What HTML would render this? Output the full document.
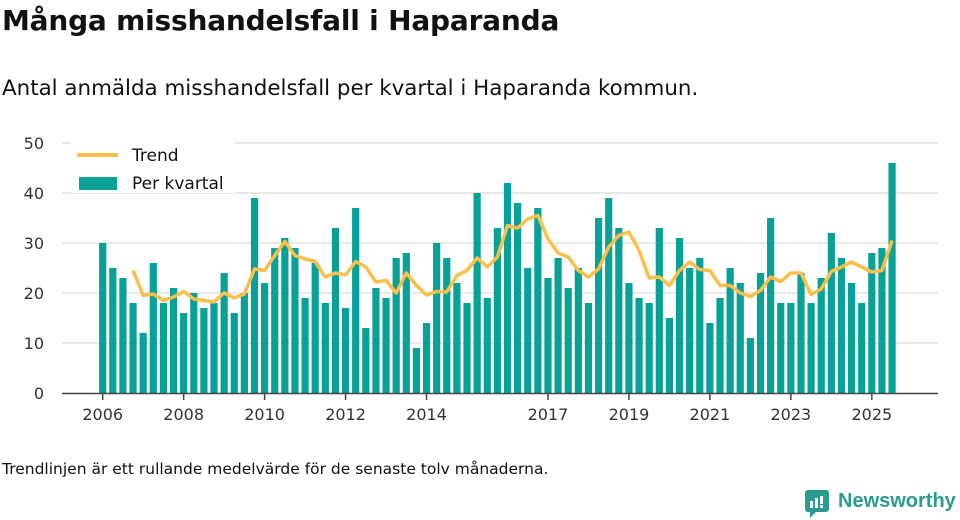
<!DOCTYPE html>
<html><head><meta charset="utf-8"><style>
body{margin:0;width:960px;height:520px;background:#fff;font-family:"Liberation Sans","DejaVu Sans",sans-serif;color:#111;position:relative;overflow:hidden}
#title{position:absolute;left:2px;top:4px;font-size:28px;font-weight:bold;font-family:"DejaVu Sans",sans-serif;letter-spacing:-0.2px}
#sub{position:absolute;left:2px;top:76px;font-size:21.4px;font-family:"DejaVu Sans",sans-serif}
#foot{position:absolute;left:2px;top:460px;font-size:15.5px;font-family:"DejaVu Sans",sans-serif}
#logo{position:absolute;left:838px;top:490px;font-size:20px;font-weight:bold;color:#2a9d8f;font-family:"Liberation Sans",sans-serif;white-space:nowrap}
#logoicon{position:absolute;left:805px;top:490px}
svg{position:absolute;left:0;top:0}
</style></head><body>
<div id="title">Många misshandelsfall i Haparanda</div>
<div id="sub">Antal anmälda misshandelsfall per kvartal i Haparanda kommun.</div>
<svg id="chart" width="960" height="520"></svg>
<div id="foot">Trendlinjen är ett rullande medelvärde för de senaste tolv månaderna.</div>
<svg id="logoicon" width="26" height="30" viewBox="0 0 26 30"><rect x="0" y="0" width="24" height="22" rx="3" fill="#2a9d8f"/><polygon points="5,21 12,21 5,28" fill="#2a9d8f"/><rect x="5" y="11" width="3" height="7" fill="#fff"/><rect x="10" y="8" width="3" height="10" fill="#fff"/><rect x="15" y="6" width="3" height="8" fill="#fff"/><rect x="15" y="15" width="3" height="3" fill="#fff"/></svg>
<div id="logo">Newsworthy</div>
<script>
const values=[30,25,23,18, 12,26,18,21, 16,20,17,18, 24,16,20,39, 22,29,31,29, 19,26,18,33, 17,37,13,21, 19,27,28,9, 14,30,27,22, 18,40,19,33, 42,38,25,37, 23,27,21,25, 18,35,39,33, 22,19,18,33, 15,31,25,27, 14,19,25,22, 11,24,35,18, 18,24,18,23, 32,27,22,18, 28,29,46];
const trend=[null,null,null,24.5,19.5,19.8,18.5,19.2,20.3,18.8,18.5,18.2,20,19,19.8,24.8,24.5,27.5,30.3,27.5,26.8,26.3,23.2,24,23.6,26.3,25.2,22.2,22.5,20,24,21.5,19.6,20.3,20.2,23.5,24.5,27,25.2,27.2,33.5,33,34.8,35.5,30.8,28,27.2,24.5,23.2,24.8,29.2,31.5,32.2,28.5,23,23.2,21.5,24.5,26.2,24.7,24.5,21.5,21.5,20,19.3,20.5,23.2,22.3,24,24,19.7,20.8,24.3,25.2,26.2,25.2,24.2,24.5,30.5];
const yTicks=[0,10,20,30,40,50];
const xTickYears=[2006,2008,2010,2012,2014,2017,2019,2021,2023,2025];
const NS="http://www.w3.org/2000/svg";
const svg=document.getElementById('chart');
const x=i=>102.7+i*10.12;
const y=v=>393-v*5;
function mk(t,a){const e=document.createElementNS(NS,t);for(const k in a)e.setAttribute(k,a[k]);svg.appendChild(e);return e;}
yTicks.forEach(v=>{
 if(v>0){const g=mk('line',{x1:62,x2:938,y1:y(v),y2:y(v),stroke:'#e0e0e0','stroke-width':1.5});
 
 }
 const t=mk('text',{x:44,y:y(v)+6,'text-anchor':'end','font-size':16,fill:'#333','font-family':'DejaVu Sans, sans-serif'});t.textContent=v;
 
 
});
values.forEach((v,i)=>{
 const r=mk('rect',{x:x(i)-3.6,y:y(v),width:7.2,height:v*5,fill:'#07a197'});
 
 
});
const ax=mk('line',{x1:62,x2:938,y1:393.5,y2:393.5,stroke:'#444','stroke-width':1.5});


xTickYears.forEach(yr=>{
 const i=(yr-2006)*4;
 const l=mk('line',{x1:x(i),x2:x(i),y1:394,y2:400,stroke:'#444','stroke-width':1.5});
 
 
 const t=mk('text',{x:x(i),y:420,'text-anchor':'middle','font-size':16,fill:'#333','font-family':'DejaVu Sans, sans-serif'});t.textContent=yr;
 
 
});
let d='';trend.forEach((v,i)=>{if(v!==null)d+=(d?'L':'M')+x(i).toFixed(1)+','+y(v).toFixed(1);});
const p=mk('path',{d:d,fill:'none',stroke:'#fbbf4c','stroke-width':3.5,'stroke-linejoin':'round'});


const lb=mk('rect',{x:71,y:141,width:164,height:52,fill:'#fff'});


const l1=mk('line',{x1:77,x2:118,y1:155,y2:155,stroke:'#fbbf4c','stroke-width':4});


const t1=mk('text',{x:132,y:161,'font-size':17,fill:'#111','font-family':'DejaVu Sans, sans-serif'});t1.textContent='Trend';


const r2=mk('rect',{x:79,y:177,width:38,height:13,fill:'#07a197'});


const t2=mk('text',{x:132,y:189,'font-size':17,fill:'#111','font-family':'DejaVu Sans, sans-serif'});t2.textContent='Per kvartal';


</script>
</body></html>
